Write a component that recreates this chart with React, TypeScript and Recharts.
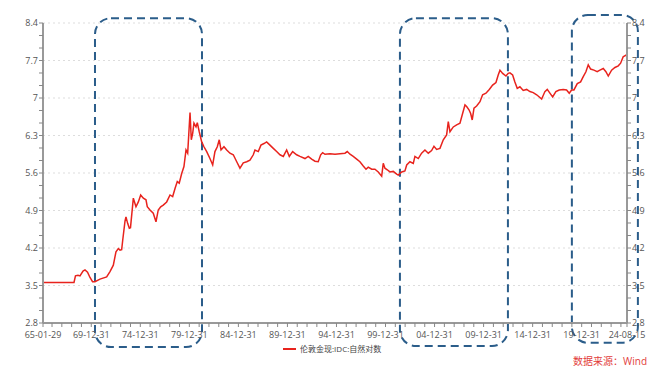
import React from "react";
import {
  LineChart,
  Line,
  XAxis,
  YAxis,
  CartesianGrid,
  ReferenceArea,
} from "recharts";

// decimal year of each observation
const dates = [
  1965.08, 1966.3, 1967.32, 1968.24, 1968.39, 1968.65, 1968.85, 1969.16, 1969.36, 1969.62,
  1969.87, 1970.13, 1970.38, 1970.89, 1971.57, 1971.91, 1972.25, 1972.52, 1972.76, 1972.93,
  1973.1, 1973.21, 1973.44, 1973.54, 1973.71, 1973.88, 1974.0, 1974.29, 1974.56, 1974.8,
  1975.04, 1975.31, 1975.58, 1975.71, 1975.99, 1976.32, 1976.6, 1976.83, 1977.08, 1977.34,
  1977.69, 1978.03, 1978.3, 1978.54, 1978.77, 1978.97, 1979.22, 1979.45, 1979.66, 1979.83,
  1980.07, 1980.2, 1980.34, 1980.47, 1980.68, 1980.81, 1981.01, 1981.26, 1981.49, 1981.77,
  1982.1, 1982.38, 1982.61, 1982.85, 1983.05, 1983.23, 1983.53, 1983.81, 1984.14, 1984.48,
  1984.83, 1985.16, 1985.5, 1985.85, 1986.18, 1986.52, 1986.69, 1987.03, 1987.3, 1987.61,
  1987.88, 1988.22, 1988.56, 1988.9, 1989.24, 1989.58, 1989.92, 1990.19, 1990.53, 1990.94,
  1991.28, 1991.79, 1992.12, 1992.47, 1992.81, 1993.14, 1993.39, 1993.59, 1993.83, 1994.34,
  1994.85, 1995.36, 1995.87, 1996.1, 1996.38, 1996.71, 1997.06, 1997.39, 1997.73, 1998.01,
  1998.24, 1998.59, 1998.92, 1999.26, 1999.61, 1999.77, 1999.94, 2000.18, 2000.45, 2000.79,
  2001.14, 2001.3, 2001.65, 2001.98, 2002.16, 2002.49, 2002.83, 2003.0, 2003.34, 2003.68,
  2004.02, 2004.36, 2004.7, 2004.94, 2005.21, 2005.55, 2005.89, 2006.23, 2006.4, 2006.57,
  2006.91, 2007.25, 2007.59, 2007.86, 2008.1, 2008.27, 2008.51, 2008.68, 2008.84, 2009.02,
  2009.29, 2009.63, 2009.9, 2010.24, 2010.58, 2010.92, 2011.26, 2011.49, 2011.67, 2011.94,
  2012.28, 2012.51, 2012.68, 2012.96, 2013.19, 2013.43, 2013.7, 2014.04, 2014.39, 2014.72,
  2015.06, 2015.41, 2015.74, 2015.92, 2016.25, 2016.49, 2016.76, 2017.04, 2017.37, 2017.71,
  2018.12, 2018.46, 2018.73, 2018.97, 2019.21, 2019.55, 2019.89, 2020.16, 2020.43, 2020.67,
  2020.91, 2021.25, 2021.58, 2021.86, 2022.2, 2022.47, 2022.71, 2023.05, 2023.39, 2023.73,
  2023.97, 2024.23, 2024.51, 2024.62,
];

// 伦敦金现 natural log
const logPrice = [
  3.555, 3.555, 3.556, 3.557, 3.68, 3.69, 3.68, 3.77, 3.79, 3.75,
  3.65, 3.57, 3.57, 3.62, 3.66, 3.76, 3.88, 4.13, 4.19, 4.16,
  4.17, 4.35, 4.7, 4.78, 4.66, 4.57, 4.58, 5.13, 4.97, 5.06,
  5.19, 5.13, 5.1, 4.97, 4.91, 4.85, 4.69, 4.91, 4.97, 5.0,
  5.06, 5.19, 5.16, 5.31, 5.44, 5.41, 5.59, 5.72, 6.03, 5.97,
  6.73, 6.22, 6.34, 6.53, 6.46, 6.54, 6.37, 6.18, 6.09, 6.0,
  5.87, 5.75, 6.0, 6.09, 6.22, 6.03, 6.09, 6.03, 5.97, 5.94,
  5.81, 5.69, 5.79, 5.81, 5.84, 5.94, 6.03, 6.0, 6.12, 6.15,
  6.18, 6.12, 6.06, 6.0, 5.94, 5.91, 6.03, 5.91, 6.0, 5.94,
  5.91, 5.87, 5.91, 5.86, 5.82, 5.81, 5.94, 5.98, 5.95, 5.96,
  5.95, 5.96, 5.97, 6.0, 5.95, 5.91, 5.86, 5.81, 5.73, 5.67,
  5.71, 5.67, 5.67, 5.62, 5.54, 5.78, 5.69, 5.66, 5.62, 5.63,
  5.58, 5.56, 5.62, 5.64, 5.75, 5.81, 5.78, 5.91, 5.87, 5.97,
  6.03, 5.97, 6.02, 6.1, 6.04, 6.06, 6.22, 6.31, 6.56, 6.37,
  6.46, 6.5, 6.53, 6.71, 6.87, 6.84, 6.78, 6.71, 6.59, 6.81,
  6.85, 6.93, 7.06, 7.09, 7.16, 7.24, 7.29, 7.43, 7.52, 7.46,
  7.41, 7.46, 7.47, 7.43, 7.3, 7.18, 7.21, 7.14, 7.16, 7.12,
  7.1, 7.06, 7.01, 6.98, 7.12, 7.16, 7.09, 7.02, 7.12, 7.15,
  7.16, 7.15, 7.09, 7.15, 7.15, 7.27, 7.3, 7.4, 7.49, 7.62,
  7.54, 7.52, 7.49, 7.52, 7.55, 7.49, 7.41, 7.52, 7.57, 7.6,
  7.65, 7.77, 7.8, 7.78,
];

const xMajor = [1965.08, 1970, 1975, 1980, 1985, 1990, 1995, 2000, 2005, 2010, 2015, 2020, 2024.62];
const xLabels = [
  "65-01-29", "69-12-31", "74-12-31", "79-12-31", "84-12-31", "89-12-31", "94-12-31",
  "99-12-31", "04-12-31", "09-12-31", "14-12-31", "19-12-31", "24-08-15",
];
const yMajor = [2.8, 3.5, 4.2, 4.9, 5.6, 6.3, 7, 7.7, 8.4];

// highlighted periods (decimal years)
const boxes = [
  { x1: 1970.38, x2: 1981.29, y1: 2.35, y2: 8.49 },
  { x1: 2001.47, x2: 2012.48, y1: 2.37, y2: 8.49 },
  { x1: 2019.0, x2: 2025.73, y1: 2.43, y2: 8.55 },
];

const data = dates.map((t, i) => ({ t, v: logPrice[i] }));

const xTicks: number[] = [1965.08];
for (let y = 1966; y <= 2024; y++) xTicks.push(y);
xTicks.push(2024.62);

const yTicks: number[] = [];
yMajor.forEach((v, i) => {
  yTicks.push(v);
  if (i < yMajor.length - 1) {
    yTicks.push(+(v + 0.7 / 3).toFixed(4), +(v + 1.4 / 3).toFixed(4));
  }
});

const TICK_COLOR = "#555";
const FONT = "'Open Sans', 'Noto Sans CJK SC', sans-serif";

const XTick = (props: any) => {
  const { x, y, payload } = props;
  const idx = xMajor.indexOf(payload.value);
  if (idx < 0) return <g />;
  return (
    <text x={x} y={y + 9} textAnchor="middle" fontSize={9} fill={TICK_COLOR} fontFamily={FONT}>
      {xLabels[idx]}
    </text>
  );
};

const YTick = (props: any) => {
  const { x, y, payload, side } = props;
  const isMajor = yMajor.some((m) => Math.abs(m - payload.value) < 1e-6);
  if (!isMajor) return <g />;
  return (
    <text
      x={side === "left" ? x + 1 : x - 1}
      y={y + 3}
      textAnchor={side === "left" ? "end" : "start"}
      fontSize={9}
      fill={TICK_COLOR}
      fontFamily={FONT}
    >
      {String(payload.value)}
    </text>
  );
};

const DashedBox = (props: any) => {
  const { x, y, width, height } = props;
  return (
    <rect
      x={x}
      y={y}
      width={width}
      height={height}
      rx={16}
      ry={16}
      fill="none"
      stroke="#2b5d8a"
      strokeWidth={2}
      strokeDasharray="8 5"
    />
  );
};

export default function App() {
  return (
    <div style={{ position: "absolute", left: 0, top: 0, width: 671, height: 376, background: "#fff" }}>
      <LineChart
        width={671}
        height={376}
        data={data}
        margin={{ top: 23, right: 0, bottom: 33, left: 0 }}
      >
        <CartesianGrid
          vertical={false}
          horizontalValues={yMajor}
          yAxisId="left"
          stroke="#ddd"
          strokeDasharray="2 3"
        />
        <XAxis
          dataKey="t"
          type="number"
          domain={[1965.08, 2024.62]}
          ticks={xTicks}
          interval={0}
          height={20}
          tick={<XTick />}
          tickSize={4}
          axisLine={{ stroke: "#999", strokeWidth: 2 }}
          tickLine={{ stroke: "#888" }}
        />
        <YAxis
          yAxisId="left"
          orientation="left"
          type="number"
          width={43}
          domain={[2.8, 8.4]}
          allowDataOverflow
          ticks={yTicks}
          interval={0}
          tick={<YTick side="left" />}
          tickSize={4}
          axisLine={{ stroke: "#999", strokeWidth: 2 }}
          tickLine={{ stroke: "#888" }}
        />
        <YAxis
          yAxisId="right"
          orientation="right"
          type="number"
          width={44}
          domain={[2.8, 8.4]}
          allowDataOverflow
          ticks={yTicks}
          interval={0}
          tick={<YTick side="right" />}
          tickSize={4}
          axisLine={{ stroke: "#999", strokeWidth: 2 }}
          tickLine={{ stroke: "#888" }}
        />
        <Line
          yAxisId="left"
          type="linear"
          dataKey="v"
          stroke="#e8231d"
          strokeWidth={1.5}
          dot={false}
          isAnimationActive={false}
        />
        {boxes.map((b, i) => (
          <ReferenceArea
            key={i}
            yAxisId="left"
            x1={b.x1}
            x2={b.x2}
            y1={b.y1}
            y2={b.y2}
            ifOverflow="visible"
            shape={<DashedBox />}
          />
        ))}
      </LineChart>
      <div
        style={{
          position: "absolute",
          left: 283,
          top: 343,
          display: "flex",
          alignItems: "center",
          fontSize: 8,
          color: "#444",
          fontFamily: FONT,
        }}
      >
        <span style={{ display: "inline-block", width: 13, height: 2, background: "#e8231d", marginRight: 4 }} />
        <span>伦敦金现:IDC:自然对数</span>
      </div>
      <div
        style={{
          position: "absolute",
          left: 573,
          top: 353,
          fontSize: 10,
          color: "#e23b3b",
          fontFamily: FONT,
        }}
      >
        数据来源：Wind
      </div>
    </div>
  );
}
